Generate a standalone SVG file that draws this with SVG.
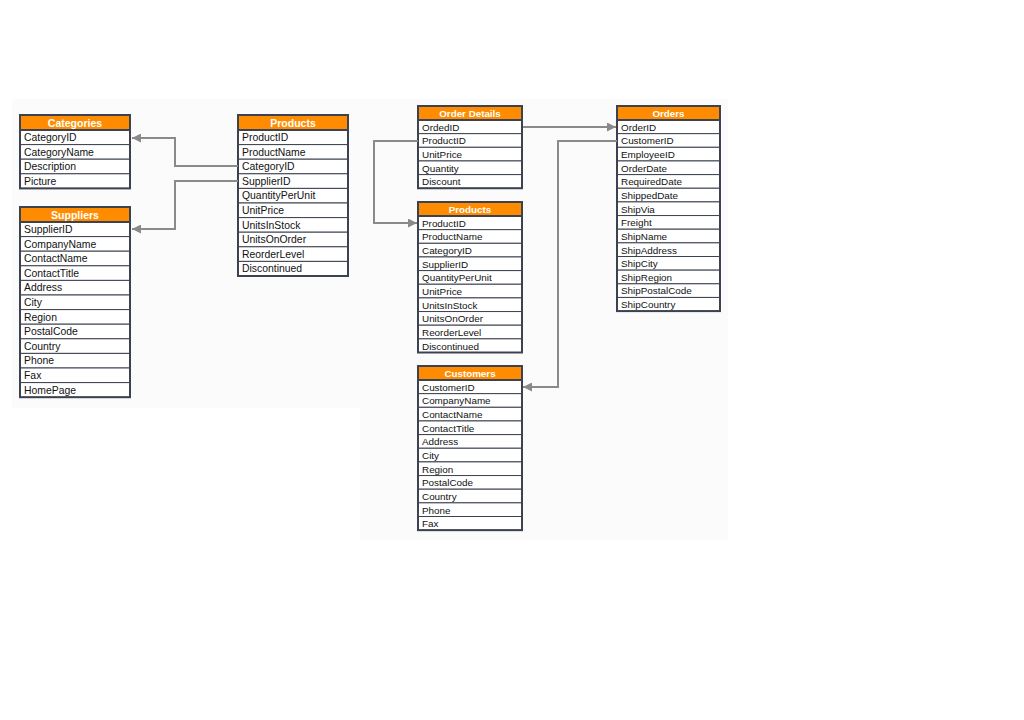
<svg xmlns="http://www.w3.org/2000/svg" width="1024" height="720" viewBox="0 0 1024 720">
<style>
.bg{fill:#fbfbfb}
.hd{fill:#ff8c00;stroke:#3d4250;stroke-width:2}
.row{fill:#ffffff;stroke:#3d4250;stroke-width:1}
.box{fill:none;stroke:#3d4250;stroke-width:2}
.ht{font-family:"Liberation Sans",Arial,sans-serif;font-weight:bold;fill:#ffffff;text-anchor:middle}
.t{font-family:"Liberation Sans",Arial,sans-serif;fill:#111111}
.L .ht{font-size:10.5px}
.L .t{font-size:10.4px}
.R .ht{font-size:9.8px}
.R .t{font-size:9.9px}
.c{fill:none;stroke:#8a8a8a;stroke-width:2}
</style>
<defs>
<marker id="ah" viewBox="0 0 10 10" refX="10" refY="5" markerWidth="5" markerHeight="4.5" markerUnits="strokeWidth" orient="auto">
<path d="M0,0 L10,5 L0,10 z" fill="#8a8a8a"/>
</marker>
</defs>
<rect width="1024" height="720" fill="#ffffff"/>
<polygon class="bg" points="12,99 728,99 728,540 360,540 360,408 12,408"/>

<g id="categories" class="L">
<rect class="row" x="20" y="130" width="110" height="14.6"/>
<rect class="row" x="20" y="144.6" width="110" height="14.6"/>
<rect class="row" x="20" y="159.2" width="110" height="14.6"/>
<rect class="row" x="20" y="173.8" width="110" height="14.6"/>
<rect class="hd" x="20" y="115" width="110" height="15"/>
<rect class="box" x="20" y="115" width="110" height="73.4"/>
<text class="ht" x="75" y="126.5">Categories</text>
<text class="t" x="24" y="141">CategoryID</text>
<text class="t" x="24" y="155.6">CategoryName</text>
<text class="t" x="24" y="170.2">Description</text>
<text class="t" x="24" y="184.8">Picture</text>
</g>

<g id="suppliers" class="L">
<rect class="row" x="20" y="222" width="110" height="14.6"/>
<rect class="row" x="20" y="236.6" width="110" height="14.6"/>
<rect class="row" x="20" y="251.2" width="110" height="14.6"/>
<rect class="row" x="20" y="265.8" width="110" height="14.6"/>
<rect class="row" x="20" y="280.4" width="110" height="14.6"/>
<rect class="row" x="20" y="295" width="110" height="14.6"/>
<rect class="row" x="20" y="309.6" width="110" height="14.6"/>
<rect class="row" x="20" y="324.2" width="110" height="14.6"/>
<rect class="row" x="20" y="338.8" width="110" height="14.6"/>
<rect class="row" x="20" y="353.4" width="110" height="14.6"/>
<rect class="row" x="20" y="368" width="110" height="14.6"/>
<rect class="row" x="20" y="382.6" width="110" height="14.6"/>
<rect class="hd" x="20" y="207" width="110" height="15"/>
<rect class="box" x="20" y="207" width="110" height="190.2"/>
<text class="ht" x="75" y="218.5">Suppliers</text>
<text class="t" x="24" y="233">SupplierID</text>
<text class="t" x="24" y="247.6">CompanyName</text>
<text class="t" x="24" y="262.2">ContactName</text>
<text class="t" x="24" y="276.8">ContactTitle</text>
<text class="t" x="24" y="291.4">Address</text>
<text class="t" x="24" y="306">City</text>
<text class="t" x="24" y="320.6">Region</text>
<text class="t" x="24" y="335.2">PostalCode</text>
<text class="t" x="24" y="349.8">Country</text>
<text class="t" x="24" y="364.4">Phone</text>
<text class="t" x="24" y="379">Fax</text>
<text class="t" x="24" y="393.6">HomePage</text>
</g>

<g id="products-left" class="L">
<rect class="row" x="238" y="130" width="110" height="14.6"/>
<rect class="row" x="238" y="144.6" width="110" height="14.6"/>
<rect class="row" x="238" y="159.2" width="110" height="14.6"/>
<rect class="row" x="238" y="173.8" width="110" height="14.6"/>
<rect class="row" x="238" y="188.4" width="110" height="14.6"/>
<rect class="row" x="238" y="203" width="110" height="14.6"/>
<rect class="row" x="238" y="217.6" width="110" height="14.6"/>
<rect class="row" x="238" y="232.2" width="110" height="14.6"/>
<rect class="row" x="238" y="246.8" width="110" height="14.6"/>
<rect class="row" x="238" y="261.4" width="110" height="14.6"/>
<rect class="hd" x="238" y="115" width="110" height="15"/>
<rect class="box" x="238" y="115" width="110" height="161"/>
<text class="ht" x="293" y="126.5">Products</text>
<text class="t" x="242" y="141">ProductID</text>
<text class="t" x="242" y="155.6">ProductName</text>
<text class="t" x="242" y="170.2">CategoryID</text>
<text class="t" x="242" y="184.8">SupplierID</text>
<text class="t" x="242" y="199.4">QuantityPerUnit</text>
<text class="t" x="242" y="214">UnitPrice</text>
<text class="t" x="242" y="228.6">UnitsInStock</text>
<text class="t" x="242" y="243.2">UnitsOnOrder</text>
<text class="t" x="242" y="257.8">ReorderLevel</text>
<text class="t" x="242" y="272.4">Discontinued</text>
</g>

<g id="order-details" class="R">
<rect class="row" x="418" y="120" width="104" height="13.65"/>
<rect class="row" x="418" y="133.65" width="104" height="13.65"/>
<rect class="row" x="418" y="147.3" width="104" height="13.65"/>
<rect class="row" x="418" y="160.95" width="104" height="13.65"/>
<rect class="row" x="418" y="174.6" width="104" height="13.65"/>
<rect class="hd" x="418" y="106" width="104" height="14"/>
<rect class="box" x="418" y="106" width="104" height="82.25"/>
<text class="ht" x="470" y="116.8">Order Details</text>
<text class="t" x="422" y="130.6">OrdedID</text>
<text class="t" x="422" y="144.3">ProductID</text>
<text class="t" x="422" y="157.9">UnitPrice</text>
<text class="t" x="422" y="171.6">Quantity</text>
<text class="t" x="422" y="185.2">Discount</text>
</g>

<g id="products-mid" class="R">
<rect class="row" x="418" y="216" width="104" height="13.65"/>
<rect class="row" x="418" y="229.65" width="104" height="13.65"/>
<rect class="row" x="418" y="243.3" width="104" height="13.65"/>
<rect class="row" x="418" y="256.95" width="104" height="13.65"/>
<rect class="row" x="418" y="270.6" width="104" height="13.65"/>
<rect class="row" x="418" y="284.25" width="104" height="13.65"/>
<rect class="row" x="418" y="297.9" width="104" height="13.65"/>
<rect class="row" x="418" y="311.55" width="104" height="13.65"/>
<rect class="row" x="418" y="325.2" width="104" height="13.65"/>
<rect class="row" x="418" y="338.85" width="104" height="13.65"/>
<rect class="hd" x="418" y="202" width="104" height="14"/>
<rect class="box" x="418" y="202" width="104" height="150.5"/>
<text class="ht" x="470" y="212.8">Products</text>
<text class="t" x="422" y="226.6">ProductID</text>
<text class="t" x="422" y="240.3">ProductName</text>
<text class="t" x="422" y="253.9">CategoryID</text>
<text class="t" x="422" y="267.6">SupplierID</text>
<text class="t" x="422" y="281.2">QuantityPerUnit</text>
<text class="t" x="422" y="294.9">UnitPrice</text>
<text class="t" x="422" y="308.5">UnitsInStock</text>
<text class="t" x="422" y="322.2">UnitsOnOrder</text>
<text class="t" x="422" y="335.8">ReorderLevel</text>
<text class="t" x="422" y="349.5">Discontinued</text>
</g>

<g id="orders" class="R">
<rect class="row" x="617" y="120" width="103" height="13.65"/>
<rect class="row" x="617" y="133.65" width="103" height="13.65"/>
<rect class="row" x="617" y="147.3" width="103" height="13.65"/>
<rect class="row" x="617" y="160.95" width="103" height="13.65"/>
<rect class="row" x="617" y="174.6" width="103" height="13.65"/>
<rect class="row" x="617" y="188.25" width="103" height="13.65"/>
<rect class="row" x="617" y="201.9" width="103" height="13.65"/>
<rect class="row" x="617" y="215.55" width="103" height="13.65"/>
<rect class="row" x="617" y="229.2" width="103" height="13.65"/>
<rect class="row" x="617" y="242.85" width="103" height="13.65"/>
<rect class="row" x="617" y="256.5" width="103" height="13.65"/>
<rect class="row" x="617" y="270.15" width="103" height="13.65"/>
<rect class="row" x="617" y="283.8" width="103" height="13.65"/>
<rect class="row" x="617" y="297.45" width="103" height="13.65"/>
<rect class="hd" x="617" y="106" width="103" height="14"/>
<rect class="box" x="617" y="106" width="103" height="205.1"/>
<text class="ht" x="668.5" y="116.8">Orders</text>
<text class="t" x="621" y="130.6">OrderID</text>
<text class="t" x="621" y="144.3">CustomerID</text>
<text class="t" x="621" y="157.9">EmployeeID</text>
<text class="t" x="621" y="171.6">OrderDate</text>
<text class="t" x="621" y="185.2">RequiredDate</text>
<text class="t" x="621" y="198.9">ShippedDate</text>
<text class="t" x="621" y="212.5">ShipVia</text>
<text class="t" x="621" y="226.2">Freight</text>
<text class="t" x="621" y="239.8">ShipName</text>
<text class="t" x="621" y="253.5">ShipAddress</text>
<text class="t" x="621" y="267.1">ShipCity</text>
<text class="t" x="621" y="280.8">ShipRegion</text>
<text class="t" x="621" y="294.4">ShipPostalCode</text>
<text class="t" x="621" y="308.1">ShipCountry</text>
</g>

<g id="customers" class="R">
<rect class="row" x="418" y="380" width="104" height="13.65"/>
<rect class="row" x="418" y="393.65" width="104" height="13.65"/>
<rect class="row" x="418" y="407.3" width="104" height="13.65"/>
<rect class="row" x="418" y="420.95" width="104" height="13.65"/>
<rect class="row" x="418" y="434.6" width="104" height="13.65"/>
<rect class="row" x="418" y="448.25" width="104" height="13.65"/>
<rect class="row" x="418" y="461.9" width="104" height="13.65"/>
<rect class="row" x="418" y="475.55" width="104" height="13.65"/>
<rect class="row" x="418" y="489.2" width="104" height="13.65"/>
<rect class="row" x="418" y="502.85" width="104" height="13.65"/>
<rect class="row" x="418" y="516.5" width="104" height="13.65"/>
<rect class="hd" x="418" y="366" width="104" height="14"/>
<rect class="box" x="418" y="366" width="104" height="164.15"/>
<text class="ht" x="470" y="376.8">Customers</text>
<text class="t" x="422" y="390.6">CustomerID</text>
<text class="t" x="422" y="404.3">CompanyName</text>
<text class="t" x="422" y="417.9">ContactName</text>
<text class="t" x="422" y="431.6">ContactTitle</text>
<text class="t" x="422" y="445.2">Address</text>
<text class="t" x="422" y="458.9">City</text>
<text class="t" x="422" y="472.5">Region</text>
<text class="t" x="422" y="486.2">PostalCode</text>
<text class="t" x="422" y="499.8">Country</text>
<text class="t" x="422" y="513.5">Phone</text>
<text class="t" x="422" y="527.1">Fax</text>
</g>

<g id="connectors">
<polyline class="c" points="238,166 175,166 175,138 132,138" marker-end="url(#ah)"/>
<polyline class="c" points="238,181 175,181 175,229 132,229" marker-end="url(#ah)"/>
<polyline class="c" points="418,141 374,141 374,223 417,223" marker-end="url(#ah)"/>
<polyline class="c" points="523,127 616,127" marker-end="url(#ah)"/>
<polyline class="c" points="617,141 558,141 558,387 523,387" marker-end="url(#ah)"/>
</g>
</svg>
